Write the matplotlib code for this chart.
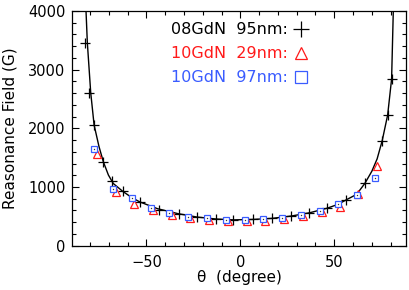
import matplotlib
matplotlib.use("Agg")
import matplotlib.pyplot as plt
from matplotlib.ticker import MultipleLocator

# ---- data ----
theta_08 = [-82.6, -80.3, -77.7, -72.9, -68.4, -62.6, -53.4, -43.4, -32.6, -23.2, -12.9, -3.7,
            6.9, 16.7, 26.8, 36.7, 46.3, 56.2, 66.3, 75.5, 78.4, 80.5]
field_08 = [3460, 2608, 2065, 1432, 1103, 932, 740, 608, 535, 484, 455, 438,
            455, 467, 506, 562, 640, 779, 1063, 1790, 2228, 2841]

theta_29 = [-76.4, -66.3, -56.5, -46.4, -36.6, -26.8, -16.5, -6.6,
            3.4, 13.0, 23.0, 33.1, 43.4, 53.0, 62.8, 72.9]
field_29 = [1558, 915, 711, 605, 525, 470, 445, 420,
            420, 428, 455, 500, 570, 665, 880, 1364]

theta_97 = [-77.6, -67.6, -57.8, -47.6, -37.9, -28.0, -17.6, -7.6,
            2.3, 11.9, 22.0, 32.1, 42.5, 52.0, 61.9, 71.8]
field_97 = [1643, 966, 808, 643, 552, 494, 467, 438,
            445, 450, 477, 523, 594, 708, 864, 1159]

theta_fit = [-82.1, -81.4, -79.6, -77.8, -75.2, -72.9, -70.2, -67.6, -62.5, -57.5, -53.4,
             -44.0, -33.0, -23.0, -13.0, -3.5, 7.0, 17.0, 27.0, 37.0, 46.3, 52.0, 56.2,
             61.9, 66.3, 70.0, 72.8, 75.5, 78.4, 80.5, 81.4]
field_fit = [4000, 3460, 2608, 2057, 1690, 1432, 1205, 1060, 925, 815, 745,
             630, 545, 488, 455, 440, 448, 466, 505, 562, 640, 705, 779,
             875, 1063, 1270, 1480, 1790, 2228, 2841, 4000]

labels = ["08GdN  95nm:", "10GdN  29nm:", "10GdN  97nm:"]
xticks = [-50, 0, 50]
yticks = [0, 1000, 2000, 3000, 4000]

RED = "#ff1a1a"
BLUE = "#3a5cff"

plt.rcParams["font.family"] = ["DejaVu Sans"]

fig = plt.figure(figsize=(4.09, 2.90), dpi=100)
ax = fig.add_axes([72.3 / 409, 44.3 / 290, (405.7 - 72.3) / 409, (245.7 - 11) / 290])

ax.plot(theta_fit, field_fit, color="black", lw=1.0, zorder=2)
ax.plot(theta_08, field_08, linestyle="none", marker="+", ms=7, mew=0.9,
        color="black", zorder=3, label=labels[0])
ax.plot(theta_29, field_29, linestyle="none", marker="^", ms=5.8, mew=0.9,
        mec=RED, mfc="white", color=RED, zorder=4, label=labels[1])
ax.plot(theta_97, field_97, linestyle="none", marker="s", ms=5.0, mew=0.9,
        mec=BLUE, mfc="white", color=BLUE, zorder=5, label=labels[2])
ax.plot(theta_97, field_97, linestyle="none", marker="o", ms=1.0, mew=0,
        mfc="#333333", zorder=6)

ax.set_xlim(-89.4, 88.0)
ax.set_ylim(0, 4000)
ax.set_xticks(xticks)
ax.set_yticks(yticks)
ax.xaxis.set_minor_locator(MultipleLocator(10))
ax.yaxis.set_minor_locator(MultipleLocator(200))
ax.tick_params(which="both", direction="in", top=True, right=True, width=0.8,
               labelsize=10.5, colors="black")
ax.tick_params(which="major", length=5)
ax.tick_params(which="minor", length=2.8)
ax.tick_params(axis="x", pad=7)
ax.tick_params(axis="y", pad=5)
for s in ax.spines.values():
    s.set_linewidth(0.9)

ax.set_xlabel("θ  (degree)", fontsize=11)
ax.set_ylabel("Reasonance Field (G)", fontsize=11)
ax.xaxis.set_label_coords(0.5, -0.105)
ax.yaxis.set_label_coords(-0.165, 0.5)

leg = ax.legend(loc="upper left", bbox_to_anchor=(0.296, 0.952), frameon=False,
                markerfirst=False, fontsize=11.5, markerscale=1.6,
                handlelength=0.8, handletextpad=0.45, labelspacing=0.56,
                borderpad=0, borderaxespad=0, labelcolor="linecolor")

fig.savefig("out.png", dpi=100)
